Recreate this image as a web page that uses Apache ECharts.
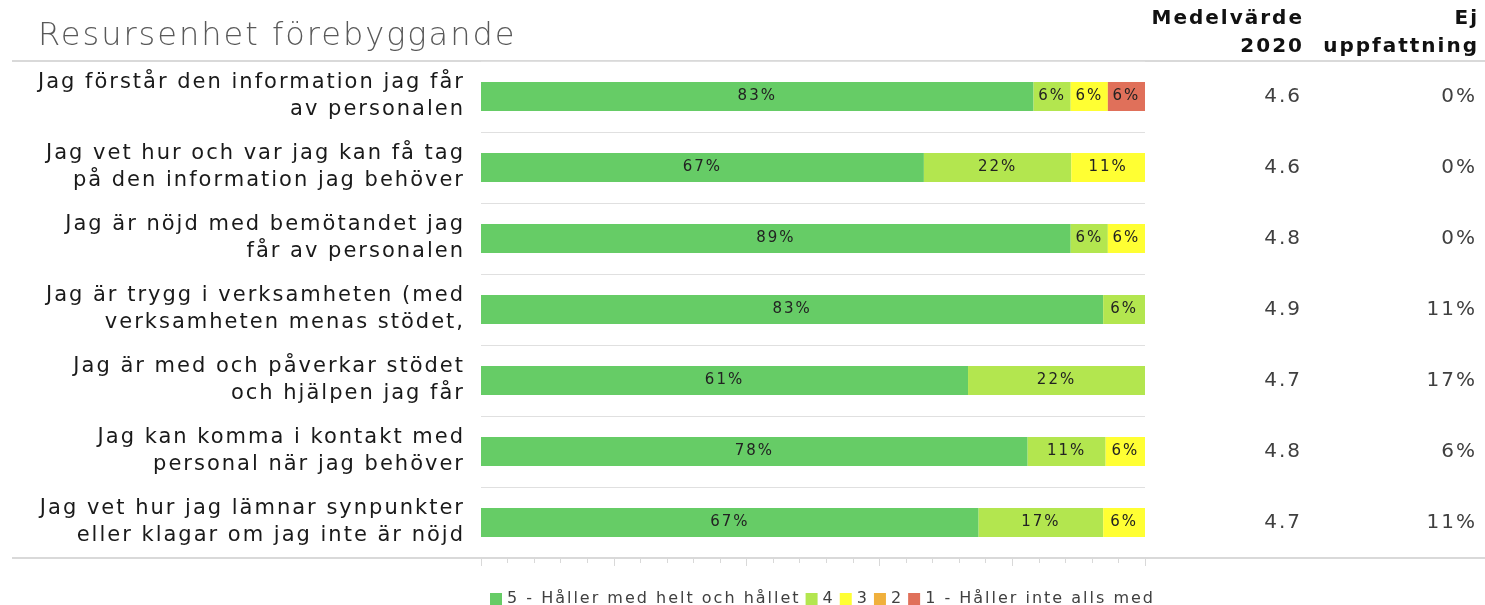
<!DOCTYPE html>
<html>
<head>
<meta charset="utf-8">
<script src="https://cdn.jsdelivr.net/npm/echarts@6/dist/echarts.min.js"></script>
<style>
  html, body { margin: 0; padding: 0; background: #fff; }
  #chart { width: 1485px; height: 605px; }
</style>
</head>
<body>
<div id="chart"></div>
<script>
  // survey questions, top to bottom
  const categories = [
    'Jag förstår den information jag får\nav personalen',
    'Jag vet hur och var jag kan få tag\npå den information jag behöver',
    'Jag är nöjd med bemötandet jag\nfår av personalen',
    'Jag är trygg i verksamheten (med\nverksamheten menas stödet,',
    'Jag är med och påverkar stödet\noch hjälpen jag får',
    'Jag kan komma i kontakt med\npersonal när jag behöver',
    'Jag vet hur jag lämnar synpunkter\neller klagar om jag inte är nöjd'
  ];

  // answer shares in percent (labels are rounded)
  const s5 = [83.3, 66.7, 88.9, 83.3, 61.1, 77.8, 66.7];
  const s4 = [5.6, 22.2, 5.6, 5.6, 22.2, 11.1, 16.7];
  const s3 = [5.6, 11.1, 5.6, 0, 0, 5.6, 5.6];
  const s2 = [0, 0, 0, 0, 0, 0, 0];
  const s1 = [5.6, 0, 0, 0, 0, 0, 0];

  const medel = [4.6, 4.6, 4.8, 4.9, 4.7, 4.8, 4.7];
  const ejUppfattning = [0, 0, 0, 11.1, 16.7, 5.6, 11.1];

  const seriesNames = ['5 - Håller med helt och hållet', '4', '3', '2', '1 - Håller inte alls med'];
  const colors = ['#66cc66', '#b3e64f', '#ffff33', '#f0b03c', '#e0705a'];

  const raw = [s5, s4, s3, s2, s1];
  const font = 'DejaVu Sans';

  // the original typeface is wide and spaced out, add some tracking to every 2d context
  const origGetContext = HTMLCanvasElement.prototype.getContext;
  HTMLCanvasElement.prototype.getContext = function (type, opts) {
    const ctx = origGetContext.call(this, type, opts);
    if (type === '2d' && ctx) ctx.letterSpacing = '2px';
    return ctx;
  };

  let chart = echarts.init(document.getElementById('chart'));

  // bars are shown relative to those who answered
  let rowSums = categories.map((c, i) => raw.reduce((a, arr) => a + arr[i], 0));

  let series = raw.map((arr, k) => ({
    name: seriesNames[k],
    type: 'bar',
    stack: 'total',
    barWidth: 29,
    itemStyle: { color: colors[k] },
    label: {
      show: true,
      position: 'inside',
      color: '#222',
      fontFamily: font,
      fontSize: 15,
      formatter: p => arr[p.dataIndex] ? Math.round(arr[p.dataIndex]) + '%' : ''
    },
    emphasis: { disabled: true },
    data: arr.map((v, i) => v / rowSums[i] * 100)
  }));

  let option = {
    animation: false,
    textStyle: { fontFamily: font },
    grid: { left: 481, right: 340, top: 61, bottom: 47 },
    legend: {
      left: 485,
      top: 585,
      icon: 'rect',
      itemWidth: 12,
      itemHeight: 12,
      itemGap: 5,
      textStyle: { fontSize: 16, color: '#404040', fontFamily: font },
      data: seriesNames
    },
    xAxis: {
      type: 'value',
      min: 0,
      max: 100,
      interval: 20,
      axisLine: { show: true, lineStyle: { color: '#d9d9d9', width: 2 } },
      axisTick: { show: true, length: 8, lineStyle: { color: '#d9d9d9' } },
      minorTick: { show: true, splitNumber: 5, length: 5, lineStyle: { color: '#d9d9d9' } },
      axisLabel: { show: false },
      splitLine: { show: false }
    },
    yAxis: [
      {
        type: 'category',
        inverse: true,
        data: categories,
        axisLine: { show: false },
        axisTick: { show: false },
        splitLine: { show: true, lineStyle: { color: '#e0e0e0', width: 1 } },
        axisLabel: {
          margin: 16,
          fontSize: 21,
          lineHeight: 27,
          color: '#1a1a1a',
          fontFamily: font
        }
      },
      {
        type: 'category',
        inverse: true,
        position: 'right',
        offset: 157,
        data: medel.map(v => v.toFixed(1)),
        axisLine: { show: false },
        axisTick: { show: false },
        axisLabel: { margin: 0, align: 'right', fontSize: 20, color: '#404040', fontFamily: font }
      },
      {
        type: 'category',
        inverse: true,
        position: 'right',
        offset: 332,
        data: ejUppfattning.map(v => Math.round(v) + '%'),
        axisLine: { show: false },
        axisTick: { show: false },
        axisLabel: { margin: 0, align: 'right', fontSize: 20, color: '#404040', fontFamily: font }
      }
    ],
    graphic: [
      {
        type: 'text', x: 38, y: 20,
        style: { text: 'Resursenhet förebyggande', fontSize: 32, fontWeight: 'lighter', fill: '#595959', fontFamily: font }
      },
      {
        type: 'text', x: 1304, y: 5,
        style: {
          text: 'Medelvärde\n2020', align: 'right', textAlign: 'right', verticalAlign: 'top',
          fontSize: 20, lineHeight: 28, fontWeight: 'bold', fill: '#111', fontFamily: font
        }
      },
      {
        type: 'text', x: 1479, y: 5,
        style: {
          text: 'Ej\nuppfattning', align: 'right', textAlign: 'right', verticalAlign: 'top',
          fontSize: 20, lineHeight: 28, fontWeight: 'bold', fill: '#111', fontFamily: font
        }
      },
      {
        type: 'line', shape: { x1: 12, y1: 61, x2: 1485, y2: 61 },
        style: { stroke: '#d9d9d9', lineWidth: 2 }
      },
      {
        type: 'line', shape: { x1: 12, y1: 558, x2: 1485, y2: 558 },
        style: { stroke: '#d9d9d9', lineWidth: 2 }
      }
    ],
    series: series
  };

  chart.setOption(option);
</script>
</body>
</html>
